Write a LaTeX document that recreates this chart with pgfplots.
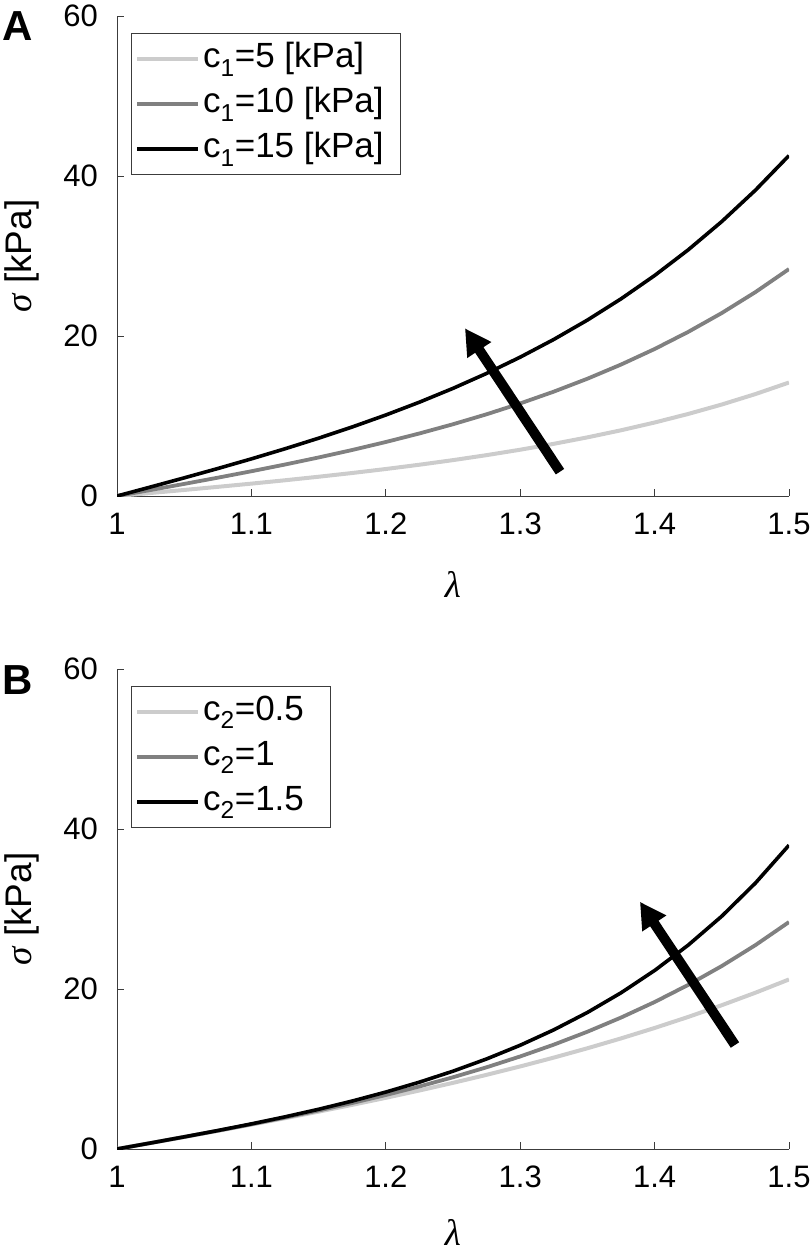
\documentclass[border=0pt]{standalone}
\usepackage{fontspec}
\setmainfont{Liberation Sans}
\newfontfamily\grk{Liberation Serif}
\usepackage{pgfplots}
\usepackage{pgfplotstable}
\pgfplotsset{compat=1.18}
\usetikzlibrary{arrows.meta}

\definecolor{lgray}{RGB}{204,204,204}
\definecolor{mgray}{RGB}{128,128,128}
\definecolor{axcol}{RGB}{60,60,60}

% Panel A: c2 = 1, c1 = 5, 10, 15 kPa
\pgfplotstableread{
lam    ca      cb      cc
1.000  0.0000  0.0000  0.0000
1.025  0.3758  0.7515  1.1273
1.050  0.7561  1.5121  2.2682
1.075  1.1453  2.2905  3.4358
1.100  1.5476  3.0951  4.6427
1.125  1.9673  3.9345  5.9018
1.150  2.4086  4.8173  7.2259
1.175  2.8762  5.7525  8.6287
1.200  3.3748  6.7495  10.1243
1.225  3.9093  7.8185  11.7278
1.250  4.4852  8.9704  13.4556
1.275  5.1085  10.2169 15.3254
1.300  5.7855  11.5710 17.3565
1.325  6.5234  13.0469 19.5703
1.350  7.3302  14.6605 21.9907
1.375  8.2146  16.4293 24.6439
1.400  9.1864  18.3727 27.5591
1.425  10.2564 20.5128 30.7692
1.450  11.4370 22.8739 34.3109
1.475  12.7419 25.4838 38.2257
1.500  14.1862 28.3724 42.5586
}\tableA

% Panel B: c1 = 10 kPa, c2 = 0.5, 1, 1.5
\pgfplotstableread{
lam    ca      cb      cc
1.000  0.0000  0.0000  0.0000
1.025  0.7508  0.7515  0.7522
1.050  1.5067  1.5121  1.5176
1.075  2.2721  2.2905  2.3090
1.100  3.0518  3.0951  3.1390
1.125  3.8500  3.9345  4.0209
1.150  4.6711  4.8173  4.9681
1.175  5.5193  5.7525  5.9954
1.200  6.3989  6.7495  7.1191
1.225  7.3145  7.8185  8.3573
1.250  8.2704  8.9704  9.7297
1.275  9.2712  10.2169 11.2590
1.300  10.3219 11.5710 12.9713
1.325  11.4275 13.0469 14.8956
1.350  12.5933 14.6605 17.0671
1.375  13.8250 16.4293 19.5243
1.400  15.1285 18.3727 22.3126
1.425  16.5103 20.5128 25.4854
1.450  17.9771 22.8739 29.1038
1.475  19.5361 25.4838 33.2418
1.500  21.1949 28.3724 37.9801
}\tableB

\pgfplotsset{
  panel/.style={
    scale only axis, width=672bp, height=480bp,
    xmin=1, xmax=1.5, ymin=0, ymax=60,
    axis x line*=bottom, axis y line*=left,
    axis line style={axcol, line width=1bp, -},
    every tick/.style={axcol, line width=1bp},
    tick align=inside, major tick length=7bp,
    xtick={1,1.1,1.2,1.3,1.4,1.5},
    xticklabels={1,1.1,1.2,1.3,1.4,1.5},
    ytick={0,20,40,60},
    /pgf/number format/assume math mode=true,
    ticklabel style={font=\fontsize{31bp}{37bp}\selectfont, inner sep=0pt},
    xticklabel style={anchor=north, yshift=-17bp},
    yticklabel style={anchor=east, xshift=-19bp},
    xlabel={{\grk\itshape λ}}, ylabel={{\grk\itshape σ} [kPa]},
    label style={font=\fontsize{37bp}{44bp}\selectfont},
    xlabel style={at={(axis description cs:0.5,-0.1833)}, anchor=center},
    ylabel style={at={(axis description cs:-0.141,0.5)}, anchor=center},
    legend cell align=left,
    legend style={draw=axcol, line width=1bp, anchor=north west,
      font=\fontsize{35bp}{42bp}\selectfont,
      inner xsep=4bp, inner ysep=3bp, row sep=0bp,
      nodes={inner xsep=3bp, inner ysep=4bp, text height=27bp, text depth=10bp}},
    legend image code/.code={\draw[#1] (0bp,0bp) -- (61bp,0bp);},
  },
}

\begin{document}
\begin{tikzpicture}
\path[use as bounding box] (0,0) rectangle (812bp,-1252bp);

\begin{axis}[panel, at={(117bp,-496bp)}, anchor=south west,
  legend style={at={(axis description cs:0.0204,0.964)}}]
\addplot[lgray, line width=4bp] table[x=lam, y=ca] {\tableA};
\addlegendentry{c\textsubscript{1}=5 [kPa]}
\addplot[mgray, line width=3.8bp] table[x=lam, y=cb] {\tableA};
\addlegendentry{c\textsubscript{1}=10 [kPa]\hspace*{10bp}\mbox{}}
\addplot[black, line width=3.6bp] table[x=lam, y=cc] {\tableA};
\addlegendentry{c\textsubscript{1}=15 [kPa]}
\draw[line width=10bp, -{Triangle[length=26bp, width=27bp]}] (axis cs:1.3296,3.04) -- (axis cs:1.2589,20.96);
\end{axis}

\begin{axis}[panel, at={(117bp,-1149bp)}, anchor=south west,
  xlabel style={at={(axis description cs:0.5,-0.174)}},
  legend style={at={(axis description cs:0.0204,0.965)}}]
\addplot[lgray, line width=4bp] table[x=lam, y=ca] {\tableB};
\addlegendentry{c\textsubscript{2}=0.5\hspace*{20bp}\mbox{}}
\addplot[mgray, line width=3.8bp] table[x=lam, y=cb] {\tableB};
\addlegendentry{c\textsubscript{2}=1}
\addplot[black, line width=3.6bp] table[x=lam, y=cc] {\tableB};
\addlegendentry{c\textsubscript{2}=1.5}
\draw[line width=10bp, -{Triangle[length=26bp, width=27bp]}] (axis cs:1.4598,13.0) -- (axis cs:1.3891,30.9);
\end{axis}

\node[font=\bfseries\fontsize{42bp}{50bp}\selectfont] at (17.5bp,-26bp) {A};
\node[font=\bfseries\fontsize{42bp}{50bp}\selectfont] at (17.5bp,-680.5bp) {B};
\end{tikzpicture}
\end{document}
